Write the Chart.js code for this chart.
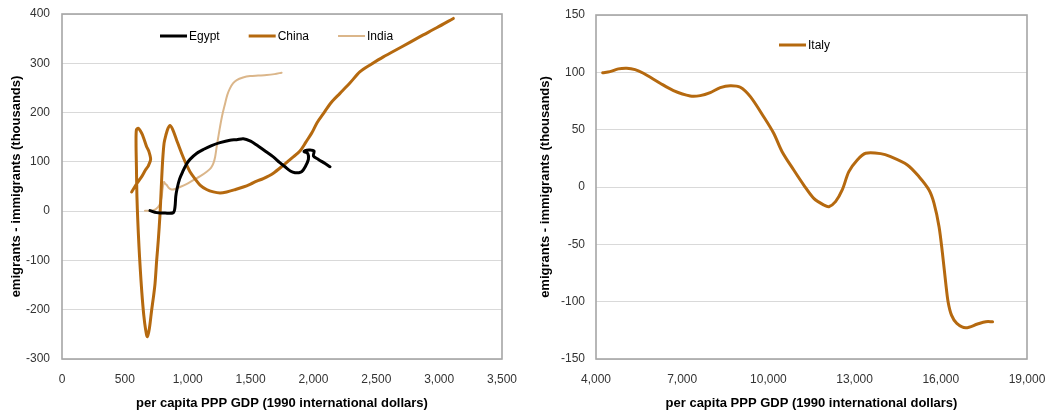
<!DOCTYPE html>
<html>
<head>
<meta charset="utf-8">
<script src="https://cdn.jsdelivr.net/npm/chart.js@4.4.1/dist/chart.umd.min.js"></script>
<style>
  html, body { margin: 0; padding: 0; background: #ffffff; }
  #wrap { position: relative; width: 1054px; height: 414px; overflow: hidden; }
  .pane { position: absolute; top: 0; width: 527px; height: 414px; }
</style>
</head>
<body>
<div id="wrap">
  <div class="pane" style="left:0"><canvas id="left" width="527" height="414"></canvas></div>
  <div class="pane" style="left:527px"><canvas id="right" width="527" height="414"></canvas></div>
</div>
<script>
// ---- Data (per capita PPP GDP, 1990 intl $) vs (emigrants - immigrants, thousands) ----
const egyptGdp = [700, 753, 820, 886, 899, 905, 915, 935, 960, 990, 1018, 1070, 1124, 1190, 1257, 1336, 1390, 1442, 1500, 1549, 1610, 1681, 1730, 1774, 1820, 1854, 1885, 1907, 1935, 1960, 1955, 1925, 1965, 2005, 2000, 2040, 2090, 2132];
const egyptNet = [1, -3, -4, -3, 9, 30, 45, 65, 80, 95, 105, 117, 125, 133, 139, 144, 145, 147, 142, 134, 123, 110, 99, 90, 81, 78, 78, 80, 90, 105, 117, 121, 124, 122, 112, 105, 97, 90];

const chinaGdp = [554, 600, 634, 665, 687, 705, 690, 674, 650, 634, 607, 592, 589, 592, 596, 603, 612, 622, 635, 650, 665, 679, 695, 713, 727, 740, 753, 766, 780, 790, 800, 812, 827, 843, 859, 880, 912, 952, 985, 1018, 1060, 1098, 1150, 1204, 1257, 1310, 1380, 1442, 1500, 1549, 1601, 1681, 1760, 1830, 1893, 1940, 1990, 2030, 2079, 2140, 2211, 2290, 2371, 2460, 2556, 2700, 2848, 2980, 3113];
const chinaNet = [39, 58, 70, 84, 92, 105, 122, 130, 148, 158, 168, 165, 137, 90, 30, -20, -70, -115, -165, -210, -240, -255, -238, -201, -175, -147, -100, -59, -5, 50, 100, 138, 155, 168, 174, 166, 144, 117, 97, 80, 65, 53, 44, 39, 37, 39, 44, 49, 55, 61, 66, 77, 93, 108, 122, 140, 160, 180, 198, 220, 239, 260, 283, 298, 313, 333, 354, 372, 391];

const indiaGdp = [660, 700, 727, 750, 774, 785, 793, 800, 811, 820, 833, 850, 873, 900, 939, 990, 1045, 1100, 1151, 1185, 1204, 1218, 1230, 1243, 1257, 1275, 1297, 1315, 1336, 1360, 1390, 1440, 1496, 1560, 1628, 1690, 1747];
const indiaNet = [1, 1, 2, 5, 12, 20, 29, 45, 59, 56, 53, 47, 44, 45, 49, 55, 63, 71, 80, 88, 97, 110, 130, 150, 171, 195, 218, 236, 249, 259, 266, 271, 274, 275, 276, 278, 281];

const italyGdp = [4233, 4488, 4778, 5070, 5360, 5650, 6232, 6697, 7279, 7628, 7976, 8325, 8674, 9023, 9372, 9835, 10184, 10477, 10882, 11231, 11580, 11929, 12103, 12336, 12569, 12800, 13093, 13383, 13906, 14255, 14837, 15242, 15590, 15765, 15939, 16058, 16173, 16253, 16372, 16557, 16871, 17279, 17569, 17802];
const italyNet = [99.7, 100.6, 103, 103.6, 102.4, 99.2, 90.5, 84.1, 79.4, 79.7, 82.3, 86.7, 88.4, 87, 78.8, 61.3, 46.9, 30.8, 14.8, 1.7, -9.9, -15.7, -17.2, -12.8, -2.6, 13.4, 23.6, 29.4, 29.1, 26.4, 19.2, 9, -2.6, -14.2, -34.6, -57.9, -84, -100, -111.7, -118.9, -122.8, -119.5, -117.5, -117.5];

// Axis ranges / ticks
const leftX = { min: 0, max: 3500, step: 500 };
const leftY = { min: -300, max: 400, step: 100 };
const rightX = { min: 4000, max: 19000, step: 3000 };
const rightY = { min: -150, max: 150, step: 50 };

const xTitle = 'per capita PPP GDP (1990 international dollars)';
const yTitle = 'emigrants - immigrants (thousands)';

// ---- helpers ----
function pts(xs, ys) { return xs.map((x, i) => ({ x: x, y: ys[i] })); }

const FONT = "'Liberation Sans', Arial, sans-serif";
Chart.defaults.font.family = FONT;
Chart.defaults.color = '#333333';

function line(label, xs, ys, color, width) {
  return {
    label: label,
    data: pts(xs, ys),
    showLine: true,
    borderColor: color,
    backgroundColor: color,
    borderWidth: width,
    pointRadius: 0,
    pointHoverRadius: 0,
    tension: 0.3,
    fill: false,
    borderCapStyle: 'round',
    borderJoinStyle: 'round'
  };
}

function noPad(s) { s.paddingTop = 0; s.paddingBottom = 0; s.paddingLeft = 0; s.paddingRight = 0; }

const frame = {
  id: 'frame',
  beforeDatasetsDraw(chart) {
    const a = chart.chartArea, ctx = chart.ctx;
    ctx.save();
    ctx.strokeStyle = '#a6a6a6';
    ctx.lineWidth = 1.6;
    ctx.strokeRect(a.left, a.top, a.right - a.left, a.bottom - a.top);
    ctx.restore();
  }
};

const lineLegend = {
  id: 'lineLegend',
  afterDatasetsDraw(chart, args, opts) {
    const a = chart.chartArea, ctx = chart.ctx;
    ctx.save();
    ctx.font = '12px ' + FONT;
    ctx.textBaseline = 'middle';
    ctx.textAlign = 'left';
    let x = a.left + opts.dx;
    const y = a.top + opts.dy;
    chart.data.datasets.forEach(ds => {
      ctx.strokeStyle = ds.borderColor;
      ctx.lineWidth = ds.borderWidth;
      ctx.lineCap = 'butt';
      ctx.beginPath();
      ctx.moveTo(x, y);
      ctx.lineTo(x + 27, y);
      ctx.stroke();
      ctx.fillStyle = '#000000';
      ctx.fillText(ds.label, x + 29, y + 1);
      x += 29 + ctx.measureText(ds.label).width + 29;
    });
    ctx.restore();
  }
};

function makeOptions(xr, yr, yAxisWidth, yTitlePad, yTickPad, pad, legendPos) {
  return {
    responsive: false,
    animation: false,
    devicePixelRatio: 1,
    layout: { padding: pad },
    plugins: {
      legend: { display: false },
      tooltip: { enabled: false },
      lineLegend: legendPos
    },
    scales: {
      x: {
        type: 'linear',
        min: xr.min, max: xr.max,
        ticks: { stepSize: xr.step, padding: 13, font: { size: 12 }, color: '#333333', maxRotation: 0 },
        grid: { display: false, drawTicks: false },
        border: { display: false },
        title: { display: true, text: xTitle, font: { size: 13, weight: 'bold' }, color: '#000000', padding: { top: 0, bottom: 3 } },
        afterFit(s) { s.height = 55; noPad(s); }
      },
      y: {
        type: 'linear',
        min: yr.min, max: yr.max,
        ticks: { stepSize: yr.step, padding: yTickPad, font: { size: 12 }, color: '#333333' },
        grid: { color: '#d9d9d9', lineWidth: 1, drawTicks: false },
        border: { display: false },
        title: { display: true, text: yTitle, font: { size: 13, weight: 'bold' }, color: '#000000', padding: { top: yTitlePad, bottom: 0 } },
        afterFit(s) { s.width = yAxisWidth; noPad(s); }
      }
    }
  };
}

new Chart(document.getElementById('left'), {
  type: 'scatter',
  data: {
    datasets: [
      line('Egypt', egyptGdp, egyptNet, '#000000', 3),
      line('China', chinaGdp, chinaNet, '#b5690f', 3),
      line('India', indiaGdp, indiaNet, '#dbb68a', 2)
    ]
  },
  options: makeOptions(leftX, leftY, 62, 9, 12, { left: 0, top: 14, right: 25, bottom: 0 }, { dx: 98, dy: 22 }),
  plugins: [frame, lineLegend]
});

new Chart(document.getElementById('right'), {
  type: 'scatter',
  data: {
    datasets: [
      line('Italy', italyGdp, italyNet, '#b5690f', 3)
    ]
  },
  options: makeOptions(rightX, rightY, 69, 11, 11, { left: 0, top: 15, right: 27, bottom: 0 }, { dx: 183, dy: 30 }),
  plugins: [frame, lineLegend]
});
</script>
</body>
</html>
